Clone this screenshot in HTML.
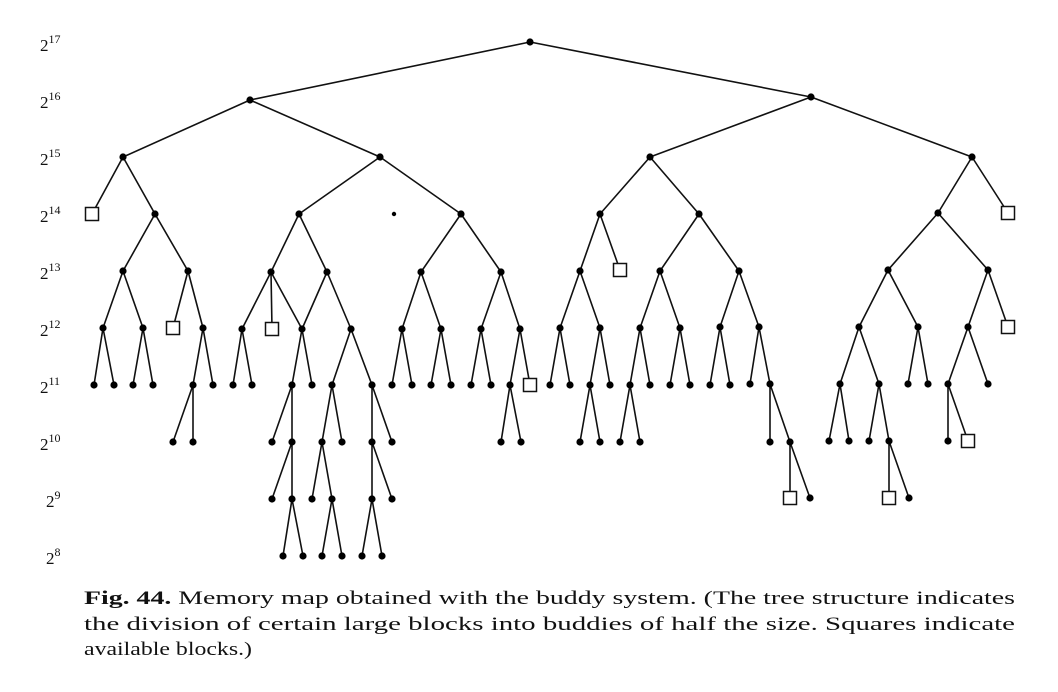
<!DOCTYPE html>
<html><head><meta charset="utf-8"><style>
html,body{margin:0;padding:0;background:#fff;width:1058px;height:692px;overflow:hidden}
svg{display:block}
text{font-family:"Liberation Serif",serif;fill:#111}
</style></head><body>
<svg width="1058" height="692" viewBox="0 0 1058 692" xmlns="http://www.w3.org/2000/svg">
<g font-size="17">
<text x="40" y="51">2<tspan font-size="12" dy="-8">17</tspan></text>
<text x="40" y="108">2<tspan font-size="12" dy="-8">16</tspan></text>
<text x="40" y="165">2<tspan font-size="12" dy="-8">15</tspan></text>
<text x="40" y="222">2<tspan font-size="12" dy="-8">14</tspan></text>
<text x="40" y="279">2<tspan font-size="12" dy="-8">13</tspan></text>
<text x="40" y="336">2<tspan font-size="12" dy="-8">12</tspan></text>
<text x="40" y="393">2<tspan font-size="12" dy="-8">11</tspan></text>
<text x="40" y="450">2<tspan font-size="12" dy="-8">10</tspan></text>
<text x="46" y="507">2<tspan font-size="12" dy="-8">9</tspan></text>
<text x="46" y="564">2<tspan font-size="12" dy="-8">8</tspan></text>
</g>
<path fill="none" stroke="#111" stroke-width="1.6" d="M530 42L250 100M530 42L811 97M250 100L123 157M250 100L380 157M123 157L92 214M123 157L155 214M155 214L123 271M155 214L188 271M123 271L103 328M123 271L143 328M103 328L94 385M103 328L114 385M143 328L133 385M143 328L153 385M188 271L173 328M188 271L203 328M203 328L193 385M203 328L213 385M193 385L173 442M193 385L193 442M380 157L299 214M380 157L461 214M299 214L271 272M299 214L327 272M271 272L242 329M271 272L272 329M271 272L302 329M327 272L302 329M327 272L351 329M242 329L233 385M242 329L252 385M302 329L292 385M302 329L312 385M351 329L332 385M351 329L372 385M292 385L272 442M292 385L292 442M292 442L272 499M292 442L292 499M292 499L283 556M292 499L303 556M332 385L322 442M332 385L342 442M322 442L312 499M322 442L332 499M332 499L322 556M332 499L342 556M372 385L372 442M372 385L392 442M372 442L372 499M372 442L392 499M372 499L362 556M372 499L382 556M461 214L421 272M461 214L501 272M421 272L402 329M421 272L441 329M402 329L392 385M402 329L412 385M441 329L431 385M441 329L451 385M501 272L481 329M501 272L520 329M481 329L471 385M481 329L491 385M520 329L510 385M520 329L530 385M510 385L501 442M510 385L521 442M811 97L650 157M811 97L972 157M650 157L600 214M650 157L699 214M600 214L580 271M600 214L620 270M580 271L560 328M580 271L600 328M560 328L550 385M560 328L570 385M600 328L590 385M600 328L610 385M590 385L580 442M590 385L600 442M699 214L660 271M699 214L739 271M660 271L640 328M660 271L680 328M640 328L630 385M640 328L650 385M630 385L620 442M630 385L640 442M680 328L670 385M680 328L690 385M739 271L720 327M739 271L759 327M720 327L710 385M720 327L730 385M759 327L750 384M759 327L770 384M770 384L770 442M770 384L790 442M790 442L790 498M790 442L810 498M972 157L938 213M972 157L1008 213M938 213L888 270M938 213L988 270M888 270L859 327M888 270L918 327M859 327L840 384M859 327L879 384M840 384L829 441M840 384L849 441M879 384L869 441M879 384L889 441M889 441L889 498M889 441L909 498M918 327L908 384M918 327L928 384M988 270L968 327M988 270L1008 327M968 327L948 384M968 327L988 384M948 384L948 441M948 384L968 441"/>
<g fill="#000">
<circle cx="530" cy="42" r="3.6"/><circle cx="250" cy="100" r="3.6"/><circle cx="811" cy="97" r="3.6"/>
<circle cx="123" cy="157" r="3.6"/><circle cx="380" cy="157" r="3.6"/><circle cx="650" cy="157" r="3.6"/><circle cx="972" cy="157" r="3.6"/>
<circle cx="155" cy="214" r="3.6"/><circle cx="299" cy="214" r="3.6"/><circle cx="461" cy="214" r="3.6"/><circle cx="600" cy="214" r="3.6"/><circle cx="699" cy="214" r="3.6"/><circle cx="938" cy="213" r="3.6"/>
<circle cx="394" cy="214" r="2.2"/>
<circle cx="123" cy="271" r="3.6"/><circle cx="188" cy="271" r="3.6"/><circle cx="271" cy="272" r="3.6"/><circle cx="327" cy="272" r="3.6"/><circle cx="421" cy="272" r="3.6"/><circle cx="501" cy="272" r="3.6"/><circle cx="580" cy="271" r="3.6"/><circle cx="660" cy="271" r="3.6"/><circle cx="739" cy="271" r="3.6"/><circle cx="888" cy="270" r="3.6"/><circle cx="988" cy="270" r="3.6"/>
<circle cx="103" cy="328" r="3.6"/><circle cx="143" cy="328" r="3.6"/><circle cx="203" cy="328" r="3.6"/><circle cx="242" cy="329" r="3.6"/><circle cx="302" cy="329" r="3.6"/><circle cx="351" cy="329" r="3.6"/><circle cx="402" cy="329" r="3.6"/><circle cx="441" cy="329" r="3.6"/><circle cx="481" cy="329" r="3.6"/><circle cx="520" cy="329" r="3.6"/><circle cx="560" cy="328" r="3.6"/><circle cx="600" cy="328" r="3.6"/><circle cx="640" cy="328" r="3.6"/><circle cx="680" cy="328" r="3.6"/><circle cx="720" cy="327" r="3.6"/><circle cx="759" cy="327" r="3.6"/><circle cx="859" cy="327" r="3.6"/><circle cx="918" cy="327" r="3.6"/><circle cx="968" cy="327" r="3.6"/>
<circle cx="94" cy="385" r="3.6"/><circle cx="114" cy="385" r="3.6"/><circle cx="133" cy="385" r="3.6"/><circle cx="153" cy="385" r="3.6"/><circle cx="193" cy="385" r="3.6"/><circle cx="213" cy="385" r="3.6"/><circle cx="233" cy="385" r="3.6"/><circle cx="252" cy="385" r="3.6"/><circle cx="292" cy="385" r="3.6"/><circle cx="312" cy="385" r="3.6"/><circle cx="332" cy="385" r="3.6"/><circle cx="372" cy="385" r="3.6"/><circle cx="392" cy="385" r="3.6"/><circle cx="412" cy="385" r="3.6"/><circle cx="431" cy="385" r="3.6"/><circle cx="451" cy="385" r="3.6"/><circle cx="471" cy="385" r="3.6"/><circle cx="491" cy="385" r="3.6"/><circle cx="510" cy="385" r="3.6"/><circle cx="550" cy="385" r="3.6"/><circle cx="570" cy="385" r="3.6"/><circle cx="590" cy="385" r="3.6"/><circle cx="610" cy="385" r="3.6"/><circle cx="630" cy="385" r="3.6"/><circle cx="650" cy="385" r="3.6"/><circle cx="670" cy="385" r="3.6"/><circle cx="690" cy="385" r="3.6"/><circle cx="710" cy="385" r="3.6"/><circle cx="730" cy="385" r="3.6"/><circle cx="750" cy="384" r="3.6"/><circle cx="770" cy="384" r="3.6"/><circle cx="840" cy="384" r="3.6"/><circle cx="879" cy="384" r="3.6"/><circle cx="908" cy="384" r="3.6"/><circle cx="928" cy="384" r="3.6"/><circle cx="948" cy="384" r="3.6"/><circle cx="988" cy="384" r="3.6"/>
<circle cx="173" cy="442" r="3.6"/><circle cx="193" cy="442" r="3.6"/><circle cx="272" cy="442" r="3.6"/><circle cx="292" cy="442" r="3.6"/><circle cx="322" cy="442" r="3.6"/><circle cx="342" cy="442" r="3.6"/><circle cx="372" cy="442" r="3.6"/><circle cx="392" cy="442" r="3.6"/><circle cx="501" cy="442" r="3.6"/><circle cx="521" cy="442" r="3.6"/><circle cx="580" cy="442" r="3.6"/><circle cx="600" cy="442" r="3.6"/><circle cx="620" cy="442" r="3.6"/><circle cx="640" cy="442" r="3.6"/><circle cx="770" cy="442" r="3.6"/><circle cx="790" cy="442" r="3.6"/><circle cx="829" cy="441" r="3.6"/><circle cx="849" cy="441" r="3.6"/><circle cx="869" cy="441" r="3.6"/><circle cx="889" cy="441" r="3.6"/><circle cx="948" cy="441" r="3.6"/>
<circle cx="272" cy="499" r="3.6"/><circle cx="292" cy="499" r="3.6"/><circle cx="312" cy="499" r="3.6"/><circle cx="332" cy="499" r="3.6"/><circle cx="372" cy="499" r="3.6"/><circle cx="392" cy="499" r="3.6"/><circle cx="810" cy="498" r="3.6"/><circle cx="909" cy="498" r="3.6"/>
<circle cx="283" cy="556" r="3.6"/><circle cx="303" cy="556" r="3.6"/><circle cx="322" cy="556" r="3.6"/><circle cx="342" cy="556" r="3.6"/><circle cx="362" cy="556" r="3.6"/><circle cx="382" cy="556" r="3.6"/>
</g>
<g fill="#fff" stroke="#111" stroke-width="1.5">
<rect x="85.5" y="207.5" width="13" height="13"/>
<rect x="166.5" y="321.5" width="13" height="13"/>
<rect x="265.5" y="322.5" width="13" height="13"/>
<rect x="523.5" y="378.5" width="13" height="13"/>
<rect x="613.5" y="263.5" width="13" height="13"/>
<rect x="1001.5" y="206.5" width="13" height="13"/>
<rect x="1001.5" y="320.5" width="13" height="13"/>
<rect x="961.5" y="434.5" width="13" height="13"/>
<rect x="783.5" y="491.5" width="13" height="13"/>
<rect x="882.5" y="491.5" width="13" height="13"/>
</g>
<g font-size="19">
<text x="84" y="604" textLength="931" lengthAdjust="spacingAndGlyphs"><tspan font-weight="bold">Fig. 44.</tspan> Memory map obtained with the buddy system. (The tree structure indicates</text>
<text x="84" y="630" textLength="931" lengthAdjust="spacingAndGlyphs">the division of certain large blocks into buddies of half the size. Squares indicate</text>
<text x="84" y="655" textLength="168" lengthAdjust="spacingAndGlyphs">available blocks.)</text>
</g>
</svg>
</body></html>
